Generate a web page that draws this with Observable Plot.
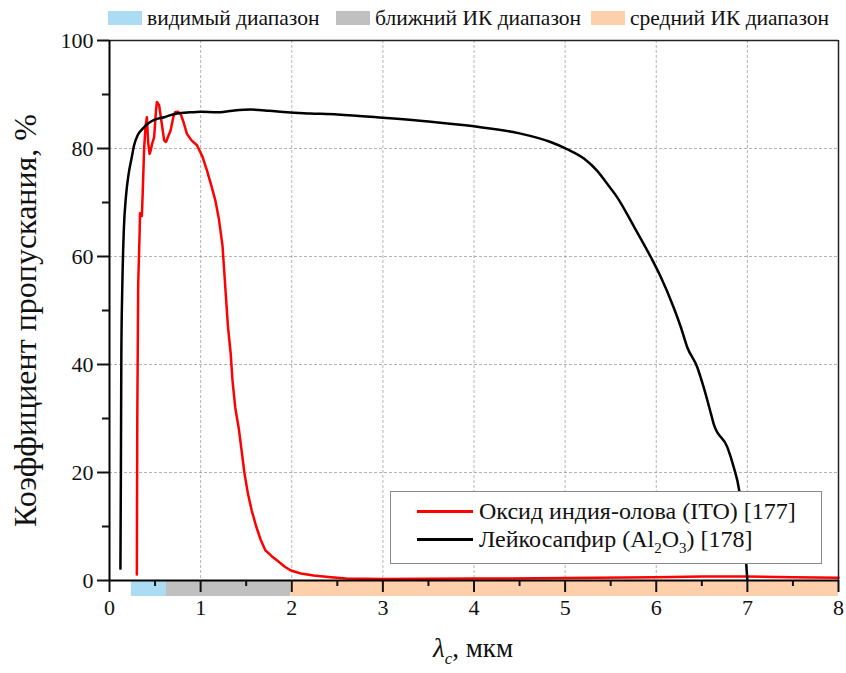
<!DOCTYPE html>
<html>
<head>
<meta charset="utf-8">
<script src="https://cdn.jsdelivr.net/npm/d3@7"></script>
<script src="https://cdn.jsdelivr.net/npm/@observablehq/plot@0.6"></script>
<style>
  body { margin: 0; background: #fff; }
  #wrap { position: relative; width: 846px; height: 673px; color: #111; }
  #wrap, #wrap *, #wrap svg text, #wrap svg tspan { font-family: 'Liberation Serif', Tinos, 'Times New Roman', serif !important; }
  #wrap svg { position: absolute; left: 0; top: 0; }
  .toplegend { position: absolute; top: 6px; height: 24px; display: flex; align-items: center; font-size: 21.5px; white-space: nowrap; }
  .toplegend span.sw { display: inline-block; width: 34px; height: 14px; margin-right: 5px; }
  #box { position: absolute; left: 390px; top: 491px; width: 432px; height: 73px; background: #fff; border: 1px solid #8a8a8a; box-sizing: border-box; font-size: 24px; }
  #box .row { position: absolute; left: 26px; display: flex; align-items: center; white-space: nowrap; }
  #box .ln { display: inline-block; width: 56px; height: 0; border-top: 3px solid; margin-right: 6px; }
  #box sub { font-size: 15px; vertical-align: -6px; line-height: 0; }
  #xlab { position: absolute; top: 633px; left: 0; width: 946px; text-align: center; font-size: 27px; line-height: 30px; white-space: nowrap; }
  #xlab sub { font-size: 17px; vertical-align: -7px; line-height: 0; }
</style>
</head>
<body>
<div id="wrap"></div>
<script>
// ---- data ----
const itoX = [0.30,0.305,0.315,0.33,0.335,0.355,0.365,0.38,0.395,0.41,0.425,0.44,0.45,0.47,0.49,0.51,0.52,0.545,0.57,0.60,0.62,0.65,0.67,0.70,0.72,0.75,0.78,0.81,0.85,0.90,0.96,1.02,1.07,1.12,1.16,1.20,1.24,1.26,1.28,1.30,1.33,1.35,1.38,1.42,1.45,1.48,1.52,1.56,1.61,1.66,1.71,1.78,1.84,1.92,1.99,2.10,2.24,2.43,2.60,3.0,4.0,5.0,6.0,6.5,7.0,7.5,8.0];
const itoY = [1.1,30,55,64,68,67.5,72,80,84,85.8,81,79,79.5,81,82.1,87,88.6,88,85,81.5,81.2,82.5,83.3,85.8,86.7,86.8,86.4,85,82.7,81.5,80.6,78.5,75.9,73,70.5,67,62,57,52,47,42,37,32,28,24,20,16,13,10,7.5,5.6,4.5,3.7,2.6,1.85,1.3,0.93,0.6,0.35,0.3,0.35,0.45,0.6,0.75,0.75,0.6,0.5];

const sapX = [0.12,0.125,0.13,0.14,0.157,0.18,0.21,0.24,0.27,0.31,0.36,0.42,0.49,0.60,0.74,0.89,1.0,1.18,1.35,1.55,1.75,1.95,2.2,2.5,3.0,3.5,4.0,4.5,4.84,5.02,5.21,5.35,5.46,5.57,5.76,5.94,6.05,6.19,6.27,6.34,6.45,6.52,6.60,6.63,6.78,6.85,6.91,6.96,7.0];
const sapY = [2.2,20,42,54,64.8,71,75.3,78,80.6,82.5,83.6,84.6,85.3,85.8,86.5,86.7,86.8,86.7,87.0,87.2,87.0,86.7,86.5,86.3,85.7,85.0,84.1,82.8,81.2,79.9,78.1,75.9,73.5,71.0,65.4,59.9,56.2,50.6,46.9,43.2,39.5,35.8,30.9,29.0,24.7,21.0,16.7,9,0];

const bandNames = ["видимый диапазон", "ближний ИК диапазон", "средний ИК диапазон"];
const bandStart = [0.24, 0.625, 1.99];
const bandEnd   = [0.625, 1.99, 8.0];

const seriesNames = ["Оксид индия-олова (ITO) [177]", "Лейкосапфир (Al2O3) [178]"];
const xTicks = [0,1,2,3,4,5,6,7,8];
const xMinor = [0.5,1.5,2.5,3.5,4.5,5.5,6.5,7.5];
const yTicks = [0,20,40,60,80,100];
const yMinor = [10,30,50,70,90];
const xLabel = "мкм";
const yLabel = "Коэффициент пропускания, %";

// ---- styles ----
const bandColors = ["#acdcf4", "#c0c0c0", "#fdd0ab"];
const seriesColors = ["#ff0000", "#000000"];
const FONT = "'Liberation Serif', Tinos, 'Times New Roman', serif";

const bands = bandNames.map((n, i) => ({name: n, x1: bandStart[i], x2: bandEnd[i], color: bandColors[i]}));
const ito = itoX.map((x, i) => ({x, y: itoY[i]}));
const sap = sapX.map((x, i) => ({x, y: sapY[i]}));

const chart = Plot.plot({
  width: 846,
  height: 673,
  marginLeft: 109,
  marginRight: 8,
  marginTop: 40,
  marginBottom: 93,
  style: {fontFamily: FONT, fontSize: "21px", color: "#111", background: "transparent"},
  x: {domain: [0, 8]},
  y: {domain: [0, 100]},
  marks: [
    Plot.gridX(xTicks.filter(d => d > 0 && d < 8), {stroke: "#777", strokeOpacity: 0.55, strokeDasharray: "3,2"}),
    Plot.gridY(yTicks.filter(d => d > 0 && d < 100), {stroke: "#777", strokeOpacity: 0.55, strokeDasharray: "3,2"}),
    Plot.rect(bands, {x1: "x1", x2: "x2", y1: () => 0, y2: () => 0, insetBottom: -16, fill: "color"}),
    Plot.line(ito, {x: "x", y: "y", stroke: seriesColors[0], strokeWidth: 2.5}),
    Plot.line(sap, {x: "x", y: "y", stroke: seriesColors[1], strokeWidth: 2.5, curve: "monotone-x"}),
    Plot.ruleY([100], {stroke: "#222", strokeWidth: 1.5}),
    Plot.ruleX([8], {stroke: "#222", strokeWidth: 1.5}),
    Plot.ruleY([0], {stroke: "#000", strokeWidth: 2}),
    Plot.ruleX([0], {stroke: "#000", strokeWidth: 2}),
    Plot.axisX({ticks: xTicks, tickSize: 12, tickPadding: 7, tickFormat: d => String(d), label: null, strokeWidth: 2, fontSize: 22}),
    Plot.axisX({ticks: xMinor, tickSize: 6, text: null, label: null, strokeWidth: 2}),
    Plot.axisY({ticks: yTicks, tickSize: 12, tickPadding: 4, tickFormat: d => String(d), label: null, strokeWidth: 2, fontSize: 22}),
    Plot.axisY({ticks: yMinor, tickSize: 7, text: null, label: null, strokeWidth: 2}),
    Plot.text([yLabel], {frameAnchor: "left", textAnchor: "middle", dx: -84, dy: 10, rotate: -90, fontSize: 27, fill: "#111", text: d => d, className: "ylab"})
  ]
});

const wrap = document.getElementById("wrap");
wrap.appendChild(chart);
chart.querySelectorAll("text").forEach(t => t.style.setProperty("font-family", FONT, "important"));

// top legend (bands)
const legendLeft = [108, 336, 591];
bands.forEach((b, i) => {
  const d = document.createElement("div");
  d.className = "toplegend";
  d.style.left = legendLeft[i] + "px";
  const sw = document.createElement("span");
  sw.className = "sw";
  sw.style.background = b.color;
  d.appendChild(sw);
  d.appendChild(document.createTextNode(b.name));
  wrap.appendChild(d);
});

// inner legend (series)
const box = document.createElement("div");
box.id = "box";
const rowTops = [6, 34];
seriesNames.forEach((name, i) => {
  const r = document.createElement("div");
  r.className = "row";
  r.style.top = rowTops[i] + "px";
  const ln = document.createElement("span");
  ln.className = "ln";
  ln.style.borderColor = seriesColors[i];
  r.appendChild(ln);
  const t = document.createElement("span");
  t.innerHTML = name.replace(/Al2O3/, "Al<sub>2</sub>O<sub>3</sub>");
  r.appendChild(t);
  box.appendChild(r);
});
wrap.appendChild(box);

// x label
const xl = document.createElement("div");
xl.id = "xlab";
xl.innerHTML = '<i>λ</i><sub><i>c</i></sub>, ' + xLabel;
wrap.appendChild(xl);

// fit the y label into the same span as the reference
const yl = chart.querySelector(".ylab text");
if (yl) {
  const len = yl.getComputedTextLength();
  if (len > 0) yl.setAttribute("font-size", Math.min(32, 27 * 430 / len).toFixed(2));
}
</script>
</body>
</html>
